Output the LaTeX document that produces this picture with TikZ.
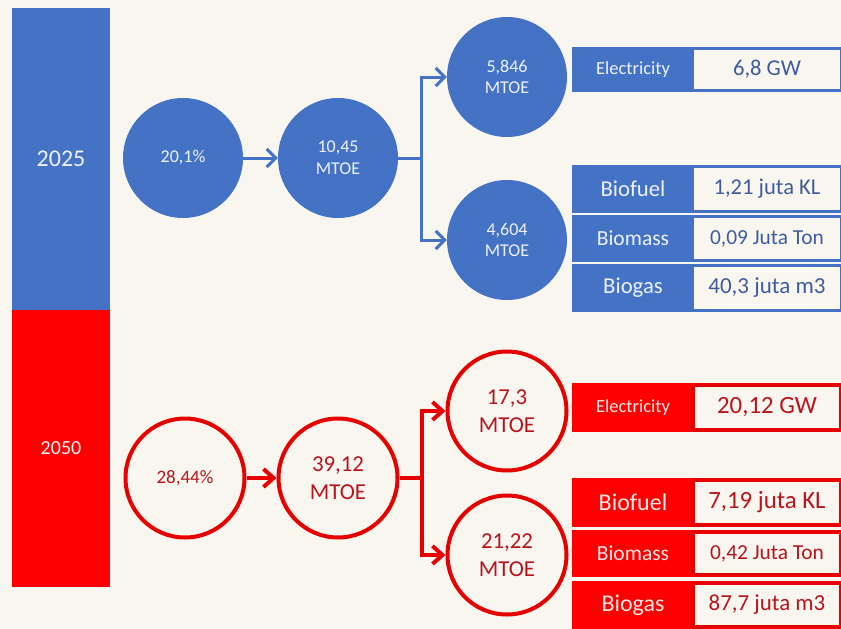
\documentclass[tikz,border=0pt]{standalone}
\usepackage{fontspec}
\setmainfont{Carlito}
\usetikzlibrary{arrows.meta}
\definecolor{bgc}{HTML}{F8F6EF}
\definecolor{bluec}{HTML}{4472C4}
\definecolor{bluetxt}{HTML}{3E5D9E}
\definecolor{lighttxt}{HTML}{EDF1F9}
\definecolor{redbar}{HTML}{FF0000}
\definecolor{redc}{HTML}{E60000}
\definecolor{redtxt}{HTML}{B8141C}
\definecolor{pinktxt}{HTML}{FBE6E6}
\newcommand{\fs}[1]{\fontsize{#1}{#1}\selectfont}
\tikzset{
  barbox/.style={rectangle, inner sep=0, minimum width=98, text=lighttxt},
  bcirc/.style={circle, inner sep=0, minimum size=120, fill=bluec, text=lighttxt, align=center, font=\fontsize{18}{21.6}\selectfont},
  rcirc/.style={circle, inner sep=0, minimum size=119, draw=redc, line width=4, text=redtxt, align=center, font=\fontsize{22.8}{27.4}\selectfont},
  blab/.style={rectangle, inner sep=0, minimum width=122, fill=bluec, text=lighttxt},
  bval/.style={rectangle, inner sep=0, minimum width=149, fill=bgc, draw=bluec, line width=3, text=bluetxt},
  rlab/.style={rectangle, inner sep=0, minimum width=122, fill=redbar, text=pinktxt},
  rval/.style={rectangle, inner sep=0, minimum width=148, fill=bgc, draw=redc, line width=4, text=redtxt},
  barr/.style={draw=bluec, line width=3, -{Straight Barb[length=9,width=18]}},
  bline/.style={draw=bluec, line width=3},
  rarr/.style={draw=redc, line width=4, -{Straight Barb[length=10,width=18]}},
  rline/.style={draw=redc, line width=4},
}
\begin{document}
\begin{tikzpicture}[x=1pt,y=-1pt]
\fill[bgc] (0,0) rectangle (841,629);
\useasboundingbox (0,0) rectangle (841,629);
% year bars
\node[barbox, fill=bluec, minimum height=302, font=\fs{24}] (y25) at (61,159) {2025};
\node[barbox, fill=redbar, minimum height=277, font=\fs{20}] (y50) at (61,448.5) {2050};
% 2025 circles
\node[bcirc] (b1) at (183,158) {20,1\%};
\node[bcirc] (b2) at (338,158) {10,45\\MTOE};
\node[bcirc] (b3) at (507,77) {5,846\\MTOE};
\node[bcirc] (b4) at (507,240) {4,604\\MTOE};
\coordinate (bj) at (421,158);
\draw[barr] (b1) -- (b2);
\draw[bline] (b2.east) -- (bj);
\draw[barr] (bj) |- (b3);
\draw[barr] (bj) |- (b4);
% 2025 boxes
\node[blab, minimum height=45, font=\fs{18.5}] (bel) at (633,69.5) {Electricity};
\node[bval, minimum height=42, font=\fs{22.6}] (belv) at (767,69.5) {6,8 GW};
\node[blab, minimum height=48, font=\fs{22.7}] (bbf) at (633,189) {Biofuel};
\node[bval, minimum height=45, font=\fs{22.6}] (bbfv) at (767,189) {1,21 juta KL};
\node[blab, minimum height=47, font=\fs{21.5}] (bbm) at (633,238.5) {Biomass};
\node[bval, minimum height=44, font=\fs{21.4}] (bbmv) at (767,238.5) {0,09 Juta Ton};
\node[blab, minimum height=48, font=\fs{22.7}] (bbg) at (633,288) {Biogas};
\node[bval, minimum height=45, font=\fs{23}] (bbgv) at (767,288) {40,3 juta m3};
% 2050 circles
\node[rcirc, font=\fontsize{19}{22.8}\selectfont] (r1) at (185,478) {28,44\%};
\node[rcirc] (r2) at (338,478) {39,12\\MTOE};
\node[rcirc] (r3) at (507,411) {17,3\\MTOE};
\node[rcirc] (r4) at (507,555) {21,22\\MTOE};
\coordinate (rj) at (422,478);
\draw[rarr] (r1) -- (r2);
\draw[rline] (r2.east) -- (rj);
\draw[rarr] (rj) |- (r3);
\draw[rarr] (rj) |- (r4);
% 2050 boxes
\node[rlab, minimum height=49, font=\fs{18.5}] (rel) at (633,407.5) {Electricity};
\node[rval, minimum height=45, font=\fs{24.8}] (relv) at (767,407.5) {20,12 GW};
\node[rlab, minimum height=49, font=\fs{24}] (rbf) at (633,502.5) {Biofuel};
\node[rval, minimum height=45, font=\fs{24.8}] (rbfv) at (767,502.5) {7,19 juta KL};
\node[rlab, minimum height=47, font=\fs{21.5}] (rbm) at (633,553.5) {Biomass};
\node[rval, minimum height=43, font=\fs{21.4}] (rbmv) at (767,553.5) {0,42 Juta Ton};
\node[rlab, minimum height=48, font=\fs{24}] (rbg) at (633,605) {Biogas};
\node[rval, minimum height=44, font=\fs{22.9}] (rbgv) at (767,605) {87,7 juta m3};
\end{tikzpicture}
\end{document}
